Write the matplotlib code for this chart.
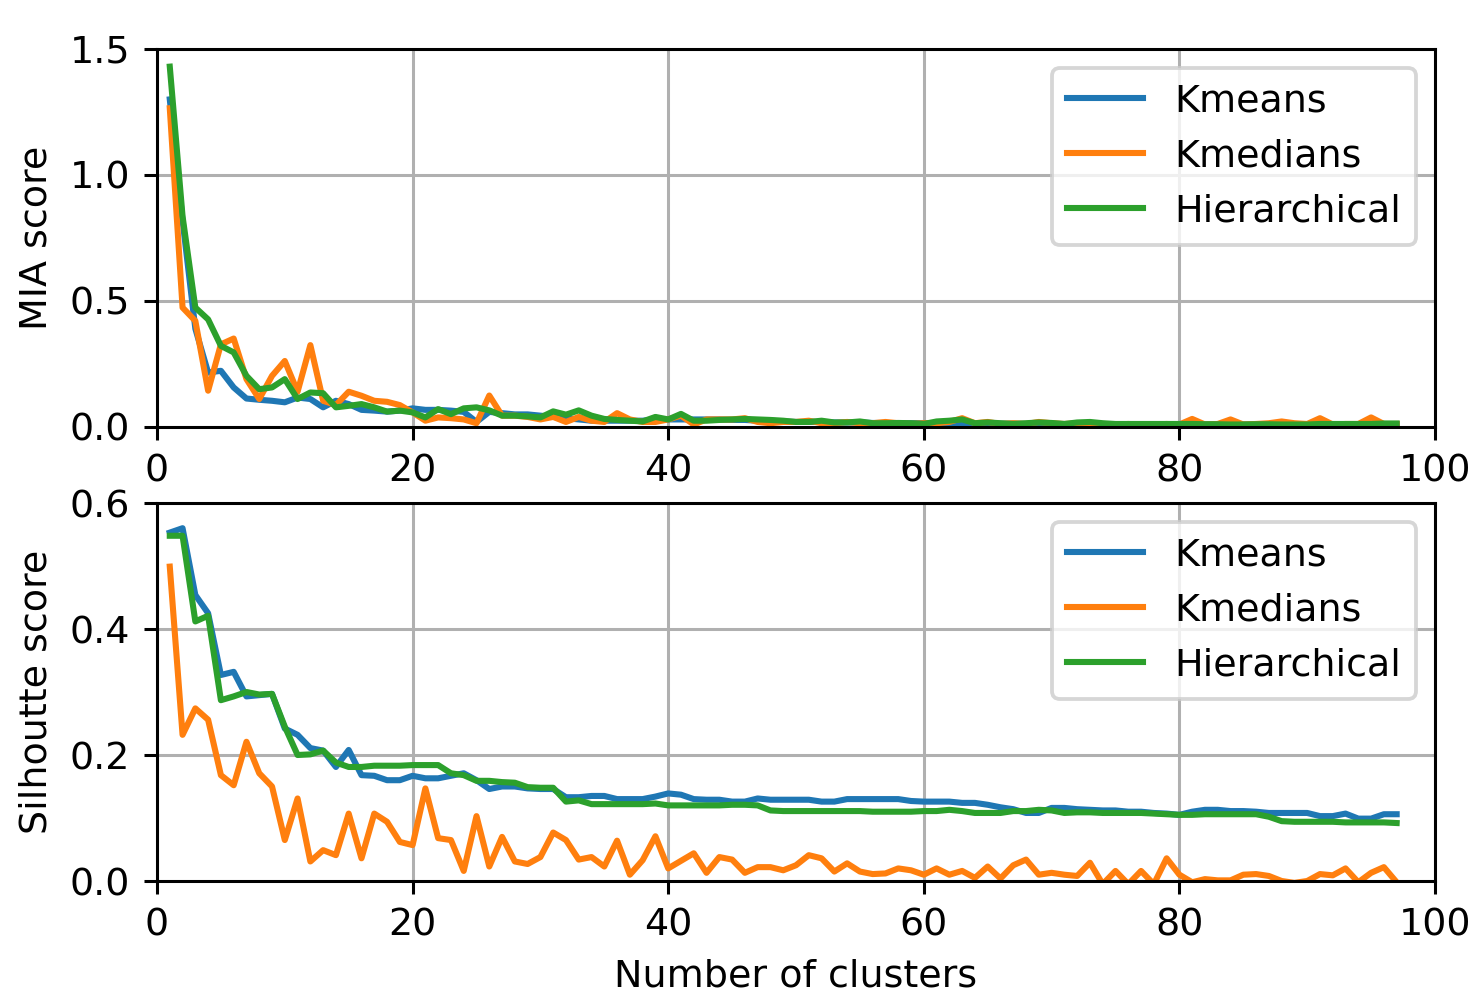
import matplotlib
matplotlib.use("Agg")
import matplotlib.pyplot as plt
import numpy as np

clusters = list(range(1, 98))
series_names = ["Kmeans", "Kmedians", "Hierarchical"]

mia_kmeans = [
    1.30, 0.82, 0.39, 0.216, 0.223, 0.157, 0.113, 0.108, 0.104, 0.098,
    0.117, 0.111, 0.078, 0.104, 0.091, 0.068, 0.065, 0.061, 0.065, 0.074,
    0.068, 0.068, 0.065, 0.060, 0.020, 0.060, 0.055, 0.050, 0.050, 0.045,
    0.040, 0.035, 0.030, 0.025, 0.025, 0.025, 0.025, 0.025, 0.030, 0.030,
    0.030, 0.030, 0.030, 0.030, 0.028, 0.028, 0.025, 0.025, 0.022, 0.020,
    0.020, 0.020, 0.018, 0.018, 0.018, 0.016, 0.016, 0.015, 0.015, 0.015,
    0.014, 0.014, 0.014, 0.013, 0.013, 0.013, 0.013, 0.012, 0.012, 0.012,
    0.012, 0.012, 0.012, 0.011, 0.011, 0.011, 0.011, 0.011, 0.011, 0.011,
    0.010, 0.010, 0.010, 0.010, 0.010, 0.010, 0.010, 0.010, 0.010, 0.010,
    0.010, 0.010, 0.010, 0.010, 0.010, 0.010, 0.010,
]
mia_kmedians = [
    1.265, 0.474, 0.421, 0.144, 0.328, 0.351, 0.190, 0.111, 0.203, 0.262,
    0.140, 0.325, 0.104, 0.087, 0.140, 0.124, 0.104, 0.100, 0.087, 0.058,
    0.025, 0.038, 0.035, 0.030, 0.015, 0.125, 0.045, 0.045, 0.040, 0.030,
    0.040, 0.020, 0.040, 0.025, 0.020, 0.055, 0.030, 0.020, 0.020, 0.030,
    0.045, 0.010, 0.030, 0.030, 0.030, 0.035, 0.020, 0.015, 0.020, 0.020,
    0.025, 0.015, 0.015, 0.020, 0.015, 0.015, 0.020, 0.015, 0.012, 0.015,
    0.015, 0.020, 0.035, 0.015, 0.020, 0.012, 0.015, 0.012, 0.020, 0.015,
    0.012, 0.015, 0.012, 0.012, 0.010, 0.012, 0.010, 0.010, 0.012, 0.010,
    0.032, 0.010, 0.012, 0.030, 0.010, 0.012, 0.015, 0.022, 0.015, 0.012,
    0.035, 0.010, 0.012, 0.012, 0.038, 0.012, 0.012,
]
mia_hier = [
    1.43, 0.836, 0.474, 0.427, 0.322, 0.296, 0.203, 0.150, 0.157, 0.190,
    0.111, 0.137, 0.134, 0.078, 0.084, 0.091, 0.078, 0.061, 0.065, 0.058,
    0.038, 0.071, 0.051, 0.074, 0.078, 0.066, 0.045, 0.045, 0.042, 0.038,
    0.062, 0.049, 0.066, 0.045, 0.032, 0.028, 0.025, 0.022, 0.040, 0.030,
    0.052, 0.025, 0.025, 0.028, 0.030, 0.032, 0.030, 0.028, 0.025, 0.020,
    0.020, 0.025, 0.018, 0.018, 0.022, 0.015, 0.015, 0.016, 0.015, 0.012,
    0.022, 0.025, 0.030, 0.015, 0.018, 0.015, 0.012, 0.015, 0.018, 0.016,
    0.012, 0.018, 0.020, 0.015, 0.012, 0.012, 0.012, 0.012, 0.012, 0.012,
    0.012, 0.011, 0.011, 0.010, 0.010, 0.011, 0.011, 0.010, 0.010, 0.010,
    0.012, 0.012, 0.012, 0.012, 0.012, 0.014, 0.014,
]

sil_kmeans = [
    0.553, 0.560, 0.454, 0.425, 0.327, 0.332, 0.293, 0.295, 0.297, 0.242,
    0.232, 0.211, 0.207, 0.181, 0.208, 0.168, 0.167, 0.160, 0.160, 0.167,
    0.163, 0.163, 0.167, 0.171, 0.160, 0.146, 0.150, 0.150, 0.147, 0.146,
    0.146, 0.133, 0.133, 0.135, 0.135, 0.130, 0.130, 0.130, 0.134, 0.139,
    0.137, 0.130, 0.129, 0.129, 0.126, 0.126, 0.131, 0.129, 0.129, 0.129,
    0.129, 0.126, 0.126, 0.130, 0.130, 0.130, 0.130, 0.130, 0.127, 0.126,
    0.126, 0.126, 0.124, 0.124, 0.121, 0.117, 0.114, 0.108, 0.108, 0.116,
    0.116, 0.114, 0.113, 0.112, 0.112, 0.110, 0.110, 0.108, 0.107, 0.105,
    0.110, 0.113, 0.113, 0.111, 0.111, 0.110, 0.108, 0.108, 0.108, 0.108,
    0.103, 0.103, 0.107, 0.099, 0.099, 0.106, 0.106,
]
sil_kmedians = [
    0.499, 0.232, 0.274, 0.256, 0.168, 0.152, 0.221, 0.171, 0.150, 0.065,
    0.131, 0.031, 0.049, 0.041, 0.107, 0.036, 0.107, 0.094, 0.062, 0.057,
    0.147, 0.068, 0.065, 0.016, 0.103, 0.023, 0.070, 0.031, 0.027, 0.038,
    0.077, 0.065, 0.034, 0.038, 0.023, 0.064, 0.010, 0.033, 0.071, 0.020,
    0.032, 0.044, 0.013, 0.038, 0.034, 0.013, 0.022, 0.022, 0.017, 0.025,
    0.041, 0.036, 0.015, 0.028, 0.015, 0.011, 0.012, 0.020, 0.017, 0.010,
    0.020, 0.010, 0.016, 0.005, 0.023, 0.004, 0.025, 0.034, 0.010, 0.013,
    0.010, 0.008, 0.029, -0.005, 0.016, -0.005, 0.016, -0.005, 0.036, 0.010,
    -0.002, 0.003, 0.001, 0.001, 0.010, 0.011, 0.008, 0.000, -0.003, 0.000,
    0.011, 0.009, 0.020, -0.002, 0.013, 0.022, -0.002,
]
sil_hier = [
    0.548, 0.548, 0.412, 0.421, 0.287, 0.293, 0.300, 0.296, 0.297, 0.245,
    0.200, 0.201, 0.207, 0.188, 0.181, 0.181, 0.183, 0.183, 0.183, 0.184,
    0.184, 0.184, 0.171, 0.168, 0.159, 0.159, 0.157, 0.156, 0.149, 0.148,
    0.148, 0.126, 0.128, 0.122, 0.122, 0.122, 0.122, 0.122, 0.123, 0.120,
    0.120, 0.120, 0.120, 0.120, 0.121, 0.121, 0.120, 0.112, 0.111, 0.111,
    0.111, 0.111, 0.111, 0.111, 0.111, 0.110, 0.110, 0.110, 0.110, 0.111,
    0.111, 0.113, 0.111, 0.108, 0.108, 0.108, 0.111, 0.111, 0.113, 0.112,
    0.108, 0.109, 0.109, 0.108, 0.108, 0.108, 0.108, 0.107, 0.106, 0.105,
    0.105, 0.106, 0.106, 0.106, 0.106, 0.106, 0.102, 0.095, 0.094, 0.094,
    0.094, 0.094, 0.093, 0.093, 0.093, 0.093, 0.092,
]

DPI = 274
fig = plt.figure(figsize=(1470 / DPI, 998 / DPI), dpi=DPI)
ax1 = fig.add_axes([157 / 1470, 1 - 427 / 998, (1435 - 157) / 1470, (427 - 49) / 998])
ax2 = fig.add_axes([157 / 1470, 1 - 881 / 998, (1435 - 157) / 1470, (881 - 503) / 998])

for ax, data, ylabel, ylim, yticks in [
    (ax1, [mia_kmeans, mia_kmedians, mia_hier], "MIA score", (0, 1.5), [0.0, 0.5, 1.0, 1.5]),
    (ax2, [sil_kmeans, sil_kmedians, sil_hier], "Silhoutte score", (0, 0.6), [0.0, 0.2, 0.4, 0.6]),
]:
    for name, vals in zip(series_names, data):
        ax.plot(clusters, vals, label=name, linewidth=1.6)
    ax.set_xlim(0, 100)
    ax.set_ylim(*ylim)
    ax.set_yticks(yticks)
    ax.set_xticks([0, 20, 40, 60, 80, 100])
    ax.grid(True)
    ax.set_ylabel(ylabel)
    ax.legend(loc="upper right")

ax2.set_xlabel("Number of clusters")

fig.savefig("out.png", dpi=DPI)
